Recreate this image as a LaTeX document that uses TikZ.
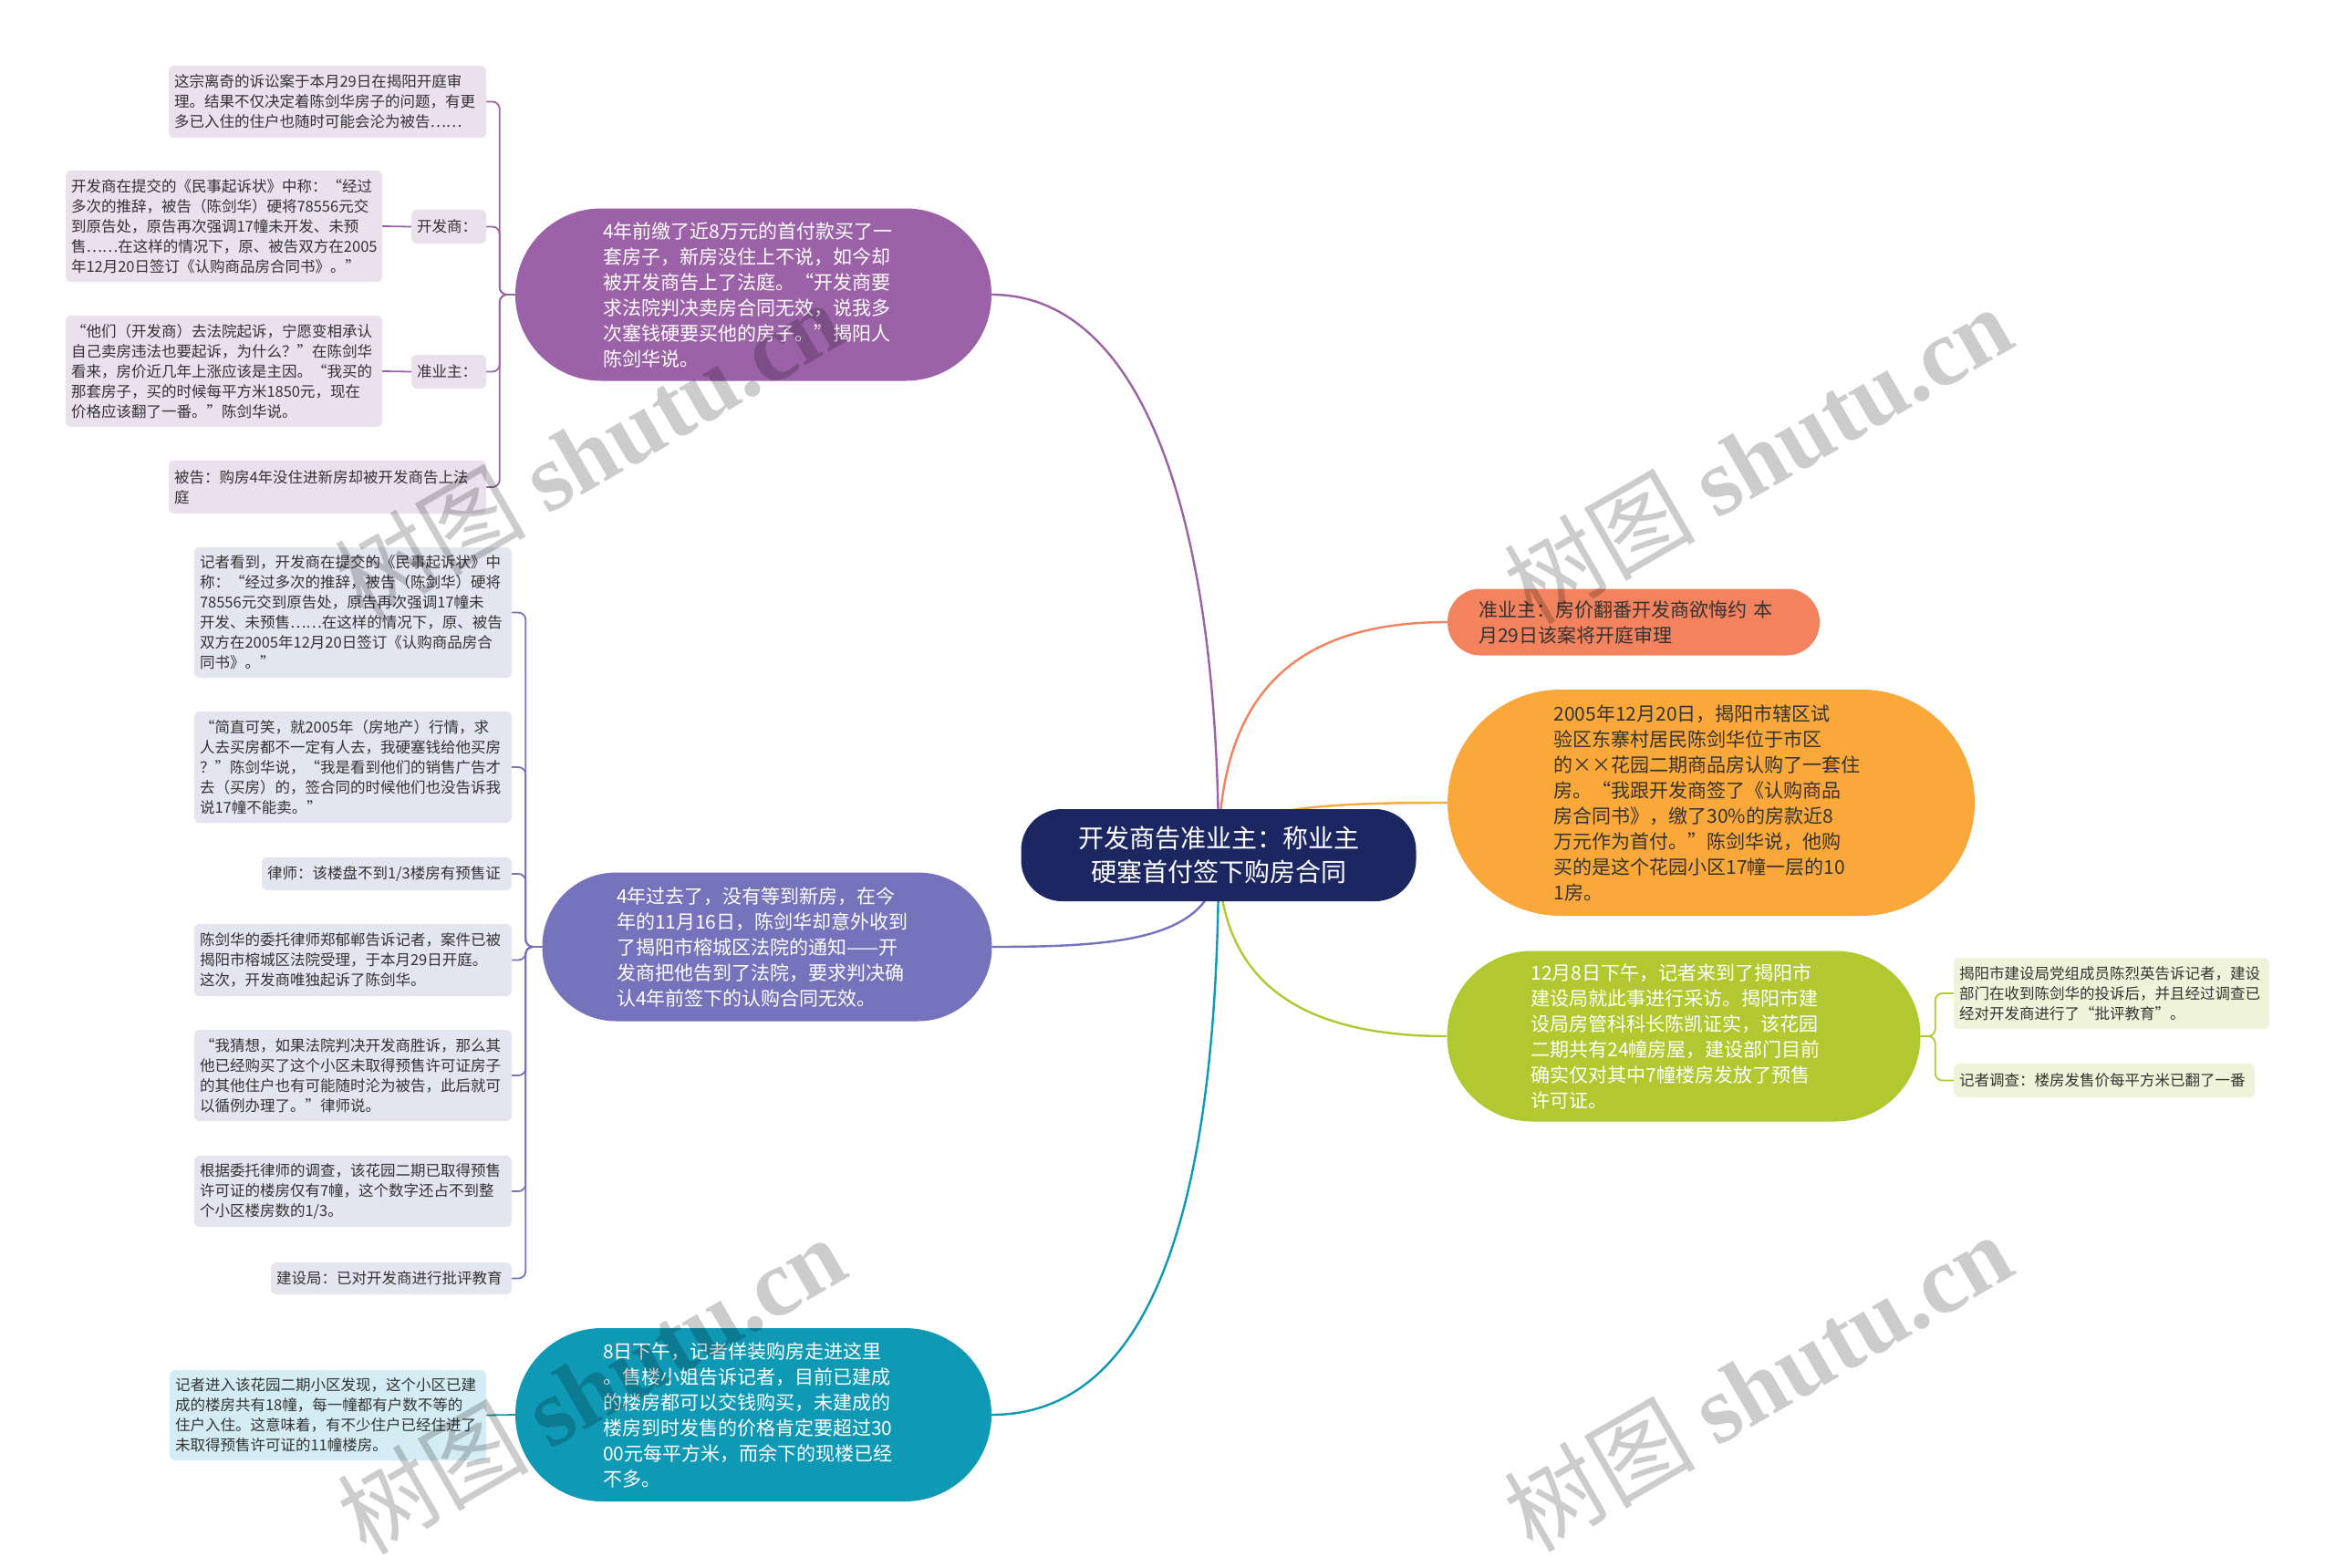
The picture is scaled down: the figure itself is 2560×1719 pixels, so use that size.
\documentclass[tikz,border=0pt]{standalone}
\usepackage{fontspec}
\setmainfont{Noto Sans CJK SC}
\newfontfamily\wmfont{Liberation Serif}
\newfontfamily\wmcjk{Noto Sans CJK SC}
\usetikzlibrary{backgrounds}
\definecolor{cNavy}{HTML}{1C2761}
\definecolor{cPurple}{HTML}{9C62A8}
\definecolor{cIndigo}{HTML}{7473BC}
\definecolor{cTeal}{HTML}{0F99B5}
\definecolor{cCoral}{HTML}{F2835E}
\definecolor{cOrange}{HTML}{FAA83A}
\definecolor{cGreen}{HTML}{B2C830}
\definecolor{lPurple}{HTML}{EBE0EE}
\definecolor{lIndigo}{HTML}{E5E5F2}
\definecolor{lTeal}{HTML}{D4EDF4}
\definecolor{lGreen}{HTML}{EFF3D9}
\definecolor{tDark}{HTML}{333333}
\tikzset{
  leaf/.style={rounded corners=6, inner xsep=6, inner ysep=4, align=left, text=tDark, font=\fontsize{16.5}{22}\selectfont},
  branch/.style={inner xsep=10, align=left, font=\fontsize{21}{28}\selectfont},
  conn/.style={line width=2.4},
  sub/.style={line width=1.8, rounded corners=8},
  wmark/.style={rotate=30, text=black, opacity=0.2, font=\fontsize{105}{105}\selectfont},
}
\begin{document}
\begin{tikzpicture}[x=1pt,y=-1pt]
\useasboundingbox (0,0) rectangle (2560,1719);

% central
\node[fill=cNavy, text=white, rounded corners=45, minimum width=433, minimum height=101, align=center, font=\fontsize{28}{37}\selectfont] (c) at (1336,937.5) {开发商告准业主：称业主\\硬塞首付签下购房合同};

% branches
\node[branch, fill=cPurple, text=white, rounded corners=94, minimum width=522, minimum height=189, text width=330] (b1) at (826,323) {4年前缴了近8万元的首付款买了一\\套房子，新房没住上不说，如今却\\被开发商告上了法庭。“开发商要\\求法院判决卖房合同无效，说我多\\次塞钱硬要买他的房子。”揭阳人\\陈剑华说。};
\node[branch, fill=cIndigo, text=white, rounded corners=81, minimum width=493, minimum height=163, text width=330] (b2) at (841,1038) {4年过去了，没有等到新房，在今\\年的11月16日，陈剑华却意外收到\\了揭阳市榕城区法院的通知——开\\发商把他告到了法院，要求判决确\\认4年前签下的认购合同无效。};
\node[branch, fill=cTeal, text=white, rounded corners=95, minimum width=522, minimum height=190, text width=330] (b3) at (826,1551) {8日下午，记者佯装购房走进这里\\。售楼小姐告诉记者，目前已建成\\的楼房都可以交钱购买，未建成的\\楼房到时发售的价格肯定要超过30\\00元每平方米，而余下的现楼已经\\不多。};
\node[branch, fill=cCoral, text=tDark, rounded corners=36, minimum width=408, minimum height=73, text width=340] (r1) at (1791,682) {准业主：房价翻番开发商欲悔约 本\\月29日该案将开庭审理};
\node[branch, fill=cOrange, text=tDark, rounded corners=124, minimum width=578, minimum height=248, text width=345] (r2) at (1876,880) {2005年12月20日，揭阳市辖区试\\验区东寨村居民陈剑华位于市区\\的××花园二期商品房认购了一套住\\房。“我跟开发商签了《认购商品\\房合同书》，缴了30\%的房款近8\\万元作为首付。”陈剑华说，他购\\买的是这个花园小区17幢一层的10\\1房。};
\node[branch, fill=cGreen, text=white, rounded corners=93, minimum width=519, minimum height=187, text width=335] (r3) at (1846,1136) {12月8日下午，记者来到了揭阳市\\建设局就此事进行采访。揭阳市建\\设局房管科科长陈凯证实，该花园\\二期共有24幢房屋，建设部门目前\\确实仅对其中7幢楼房发放了预售\\许可证。};

% purple leaves
\node[leaf, fill=lPurple, text width=336, minimum height=79] (l1a) at (359,111.5) {这宗离奇的诉讼案于本月29日在揭阳开庭审\\理。结果不仅决定着陈剑华房子的问题，有更\\多已入住的住户也随时可能会沦为被告……};
\node[leaf, fill=lPurple, text width=70, minimum height=37] (l1bl) at (492,248.5) {开发商：};
\node[leaf, fill=lPurple, text width=335, minimum height=122] (l1bt) at (245.5,248) {开发商在提交的《民事起诉状》中称：“经过\\多次的推辞，被告（陈剑华）硬将78556元交\\到原告处，原告再次强调17幢未开发、未预\\售……在这样的情况下，原、被告双方在2005\\年12月20日签订《认购商品房合同书》。”};
\node[leaf, fill=lPurple, text width=70, minimum height=37] (l1cl) at (492,407.5) {准业主：};
\node[leaf, fill=lPurple, text width=335, minimum height=122] (l1ct) at (245.5,407) {“他们（开发商）去法院起诉，宁愿变相承认\\自己卖房违法也要起诉，为什么？”在陈剑华\\看来，房价近几年上涨应该是主因。“我买的\\那套房子，买的时候每平方米1850元，现在\\价格应该翻了一番。”陈剑华说。};
\node[leaf, fill=lPurple, text width=336, minimum height=58] (l1d) at (359,534) {被告：购房4年没住进新房却被开发商告上法\\庭};

% indigo leaves
\node[leaf, fill=lIndigo, text width=336, minimum height=143] (l2a) at (387,671.5) {记者看到，开发商在提交的《民事起诉状》中\\称：“经过多次的推辞，被告（陈剑华）硬将\\78556元交到原告处，原告再次强调17幢未\\开发、未预售……在这样的情况下，原、被告\\双方在2005年12月20日签订《认购商品房合\\同书》。”};
\node[leaf, fill=lIndigo, text width=336, minimum height=122] (l2b) at (387,841) {“简直可笑，就2005年（房地产）行情，求\\人去买房都不一定有人去，我硬塞钱给他买房\\？”陈剑华说，“我是看到他们的销售广告才\\去（买房）的，签合同的时候他们也没告诉我\\说17幢不能卖。”};
\node[leaf, fill=lIndigo, text width=262, minimum height=36] (l2c) at (424,958) {律师：该楼盘不到1/3楼房有预售证};
\node[leaf, fill=lIndigo, text width=336, minimum height=79] (l2d) at (387,1052.5) {陈剑华的委托律师郑郁郸告诉记者，案件已被\\揭阳市榕城区法院受理，于本月29日开庭。\\这次，开发商唯独起诉了陈剑华。};
\node[leaf, fill=lIndigo, text width=336, minimum height=100] (l2e) at (387,1179) {“我猜想，如果法院判决开发商胜诉，那么其\\他已经购买了这个小区未取得预售许可证房子\\的其他住户也有可能随时沦为被告，此后就可\\以循例办理了。”律师说。};
\node[leaf, fill=lIndigo, text width=336, minimum height=78] (l2f) at (387,1306) {根据委托律师的调查，该花园二期已取得预售\\许可证的楼房仅有7幢，这个数字还占不到整\\个小区楼房数的1/3。};
\node[leaf, fill=lIndigo, text width=252, minimum height=35] (l2g) at (429,1401.5) {建设局：已对开发商进行批评教育};

% teal leaf
\node[leaf, fill=lTeal, text width=335, minimum height=99] (l3) at (359.5,1551.5) {记者进入该花园二期小区发现，这个小区已建\\成的楼房共有18幢，每一幢都有户数不等的\\住户入住。这意味着，有不少住户已经住进了\\未取得预售许可证的11幢楼房。};

% green leaves
\node[leaf, fill=lGreen, text width=334, minimum height=78] (r3a) at (2315,1089) {揭阳市建设局党组成员陈烈英告诉记者，建设\\部门在收到陈剑华的投诉后，并且经过调查已\\经对开发商进行了“批评教育”。};
\node[leaf, fill=lGreen, text width=318, minimum height=37] (r3b) at (2307,1184.5) {记者调查：楼房发售价每平方米已翻了一番};

\begin{pgfonlayer}{background}
\fill[white] (0,0) rectangle (2560,1719);
\draw[conn, cPurple] (c.center) .. controls (1336,560) and (1250,323) .. (b1.east);
\draw[conn, cIndigo] (c.center) .. controls (1336,1030) and (1230,1038) .. (b2.east);
\draw[conn, cTeal] (c.center) .. controls (1336,1330) and (1260,1551) .. (b3.east);
\draw[conn, cCoral] (c.center) .. controls (1336,760) and (1420,682) .. (r1.west);
\draw[conn, cOrange] (c.center) .. controls (1336,885) and (1450,880) .. (r2.west);
\draw[conn, cGreen] (c.center) .. controls (1336,1080) and (1430,1136) .. (r3.west);

\draw[sub, cPurple] (b1.west) -- ++(-17,0) |- (l1a.east);
\draw[sub, cPurple] (b1.west) -- ++(-17,0) |- (l1bl.east);
\draw[sub, cPurple] (b1.west) -- ++(-17,0) |- (l1cl.east);
\draw[sub, cPurple] (b1.west) -- ++(-17,0) |- (l1d.east);
\draw[sub, cPurple] (l1bt.east) -- (l1bl.west);
\draw[sub, cPurple] (l1ct.east) -- (l1cl.west);

\draw[sub, cIndigo] (b2.west) -- ++(-18,0) |- (l2a.east);
\draw[sub, cIndigo] (b2.west) -- ++(-18,0) |- (l2b.east);
\draw[sub, cIndigo] (b2.west) -- ++(-18,0) |- (l2c.east);
\draw[sub, cIndigo] (b2.west) -- ++(-18,0) |- (l2d.east);
\draw[sub, cIndigo] (b2.west) -- ++(-18,0) |- (l2e.east);
\draw[sub, cIndigo] (b2.west) -- ++(-18,0) |- (l2f.east);
\draw[sub, cIndigo] (b2.west) -- ++(-18,0) |- (l2g.east);

\draw[sub, cTeal] (b3.west) -- (l3.east);

\draw[sub, cGreen] (r3.east) -- ++(16,0) |- (r3a.west);
\draw[sub, cGreen] (r3.east) -- ++(16,0) |- (r3b.west);
\end{pgfonlayer}

% watermarks
\node[wmark] (wm1) at (645,493) {\wmcjk 树图 \wmfont\bfseries shutu.cn};
\node[wmark] (wm2) at (1927,498) {\wmcjk 树图 \wmfont\bfseries shutu.cn};
\node[wmark] (wm3) at (648,1518) {\wmcjk 树图 \wmfont\bfseries shutu.cn};
\node[wmark] (wm4) at (1927,1515) {\wmcjk 树图 \wmfont\bfseries shutu.cn};
\end{tikzpicture}
\end{document}
